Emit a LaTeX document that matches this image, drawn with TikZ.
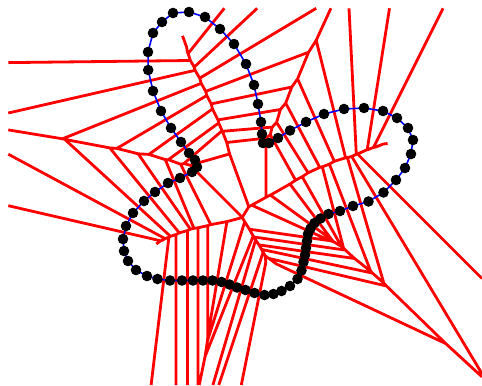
\documentclass[tikz,border=0pt]{standalone}
\usepackage{tikz}
\newcount\vorN
\newcount\vorI
\newcount\vorJ
\newcount\vorK
\newcount\vorLo
\newcount\vorHi
\newcount\vorA
\newcount\vorB
\newcount\vorAbsA
\newcount\vorAbsB
\newcount\vorDx
\newcount\vorDy
\newcount\vorMx
\newcount\vorMy
\newcount\vorQ
\newif\ifvorempty
\gdef\vorEdges{}
\def\vorXmin{83}
\def\vorXmax{4820}
\def\vorYmin{83}
\def\vorYmax{3850}
\def\vorX#1{\csname vorx\number#1\endcsname}
\def\vorY#1{\csname vory\number#1\endcsname}
\def\vorNN#1{\csname vorn\number#1\endcsname}
\newcommand\vorpt[2]{%
  \global\advance\vorN by 1\relax
  \expandafter\xdef\csname vorx\number\vorN\endcsname{\number\numexpr\dimexpr#1pt\relax*10/65536\relax}%
  \expandafter\xdef\csname vory\number\vorN\endcsname{\number\numexpr\dimexpr#2pt\relax*10/65536\relax}%
  \expandafter\xdef\csname vorn\number\vorN\endcsname{\number\numexpr
     \vorX\vorN*\vorX\vorN+\vorY\vorN*\vorY\vorN\relax}%
}
% constraint  a*t <= b  (t scaled by 10000)
\def\vorApply{%
  \ifnum\vorA=0\relax
    \ifnum\vorB<0\relax \voremptytrue\fi
  \else
    \vorAbsA=\vorA \ifnum\vorAbsA<0\relax \vorAbsA=-\vorAbsA\fi
    \vorAbsB=\vorB \ifnum\vorAbsB<0\relax \vorAbsB=-\vorAbsB\fi
    \vorAbsB=\numexpr\vorAbsB/100000\relax
    \ifnum\vorAbsB<\vorAbsA
      \vorQ=\numexpr\vorB*10000/\vorA\relax
      \ifnum\vorA>0\relax
        \ifnum\vorQ<\vorHi \vorHi=\vorQ\fi
      \else
        \ifnum\vorQ>\vorLo \vorLo=\vorQ\fi
      \fi
    \else
      \ifnum\vorB<0\relax \voremptytrue\fi
    \fi
    \ifnum\vorLo<\vorHi\else\voremptytrue\fi
  \fi}
\def\vorStepK{%
  \ifnum\vorK=\vorI\else\ifnum\vorK=\vorJ\else
    \vorA=\numexpr2*(\vorDx*(\vorX\vorK-\vorX\vorI)+\vorDy*(\vorY\vorK-\vorY\vorI))\relax
    \vorB=\numexpr\vorNN\vorK-\vorNN\vorI-\vorMx*(\vorX\vorK-\vorX\vorI)-\vorMy*(\vorY\vorK-\vorY\vorI)\relax
    \vorApply
    \ifvorempty \vorK=\vorN\fi
  \fi\fi}
\def\vorLoopK{%
  \ifnum\vorK<\vorN
    \advance\vorK by 1\relax
    \vorStepK
    \expandafter\vorLoopK
  \fi}
\def\vorEdge{%
  \vorDx=\numexpr\vorY\vorI-\vorY\vorJ\relax
  \vorDy=\numexpr\vorX\vorJ-\vorX\vorI\relax
  \vorMx=\numexpr\vorX\vorI+\vorX\vorJ\relax
  \vorMy=\numexpr\vorY\vorI+\vorY\vorJ\relax
  \vorLo=-2000000000\relax
  \vorHi=2000000000\relax
  \voremptyfalse
  \vorK=0\relax
  \vorLoopK
  \ifvorempty\else
    \ifnum\vorLo=-2000000000\relax \voremptytrue\fi
    \ifnum\vorHi=2000000000\relax \voremptytrue\fi
  \fi
  \ifvorempty\else
    \vorA=\numexpr-2*\vorDx\relax \vorB=\numexpr\vorMx-2*\vorXmin\relax \vorApply
    \vorA=\numexpr2*\vorDx\relax \vorB=\numexpr2*\vorXmax-\vorMx\relax \vorApply
    \vorA=\numexpr-2*\vorDy\relax \vorB=\numexpr\vorMy-2*\vorYmin\relax \vorApply
    \vorA=\numexpr2*\vorDy\relax \vorB=\numexpr2*\vorYmax-\vorMy\relax \vorApply
    \ifvorempty\else
      \xdef\vorEdges{\vorEdges
        (\number\numexpr(\vorMx*5000+\vorLo*\vorDx)/10000\relax,\number\numexpr(\vorMy*5000+\vorLo*\vorDy)/10000\relax)
        --(\number\numexpr(\vorMx*5000+\vorHi*\vorDx)/10000\relax,\number\numexpr(\vorMy*5000+\vorHi*\vorDy)/10000\relax)}%
    \fi
  \fi}
\def\vorLoopJ{%
  \ifnum\vorJ<\vorN
    \advance\vorJ by 1\relax
    \vorEdge
    \expandafter\vorLoopJ
  \fi}
\def\vorLoopI{%
  \ifnum\vorI<\vorN
    \advance\vorI by 1\relax
    \vorJ=\vorI
    \vorLoopJ
    \expandafter\vorLoopI
  \fi}
% sample points of the curve (pixels)
\vorpt{144}{201}
\vorpt{133}{213}
\vorpt{126}{226}
\vorpt{123}{239}
\vorpt{124}{251}
\vorpt{128}{261}
\vorpt{136}{270}
\vorpt{147}{276}
\vorpt{157.5}{279}
\vorpt{170}{280.5}
\vorpt{182}{280.5}
\vorpt{193}{280.5}
\vorpt{203}{280.5}
\vorpt{212.5}{280.5}
\vorpt{221.5}{282}
\vorpt{229.5}{284.5}
\vorpt{237}{287.5}
\vorpt{245.5}{290}
\vorpt{254.5}{293}
\vorpt{264.5}{295}
\vorpt{273.5}{294}
\vorpt{281.5}{291}
\vorpt{290}{286}
\vorpt{297.5}{279}
\vorpt{301.5}{270.5}
\vorpt{303.5}{262}
\vorpt{305}{255}
\vorpt{306}{248}
\vorpt{307}{241}
\vorpt{308}{234}
\vorpt{310.5}{228.5}
\vorpt{314.5}{223}
\vorpt{320.5}{218.5}
\vorpt{328.5}{214}
\vorpt{340}{211}
\vorpt{353}{206}
\vorpt{368.5}{201.5}
\vorpt{383.5}{192.5}
\vorpt{396}{180}
\vorpt{405}{168}
\vorpt{411}{154}
\vorpt{413}{140}
\vorpt{408}{128}
\vorpt{397}{118}
\vorpt{383}{111}
\vorpt{364}{108}
\vorpt{344}{109}
\vorpt{324}{114}
\vorpt{306}{122}
\vorpt{290}{130.5}
\vorpt{278}{138}
\vorpt{269}{143}
\vorpt{263}{143}
\vorpt{262}{134}
\vorpt{261}{122}
\vorpt{258}{104}
\vorpt{254}{85}
\vorpt{246}{64}
\vorpt{234}{44}
\vorpt{220}{29}
\vorpt{205}{17}
\vorpt{189}{12}
\vorpt{173}{13}
\vorpt{162}{22}
\vorpt{153}{33}
\vorpt{148}{52}
\vorpt{148.2}{70}
\vorpt{153}{91}
\vorpt{161}{111}
\vorpt{171}{128}
\vorpt{181}{142}
\vorpt{189}{153}
\vorpt{195}{160}
\vorpt{197}{167}
\vorpt{192}{172}
\vorpt{180}{178}
\vorpt{168}{183}
\vorpt{155}{192}
\tikzset{
  voredge/.style={draw=red, line width=2.8pt},
  curveline/.style={draw=blue, line width=1.6pt},
  sampledot/.style={fill=black}
}
\begin{document}
\vorI=0\relax
\vorLoopI
\begin{tikzpicture}[x=0.1pt, y=-0.1pt]
  \fill[white] (0,0) rectangle (4820,3850);
  \useasboundingbox (0,0) rectangle (4820,3850);
  \path[voredge] \vorEdges;
  \draw[curveline] (\vorX{1},\vorY{1}) \foreach \k in {2,...,78}{ -- (\vorX{\k},\vorY{\k}) } -- cycle;
  \foreach \k in {1,...,78}{
    \path[sampledot] (\vorX{\k},\vorY{\k}) circle[radius=5.3pt];
  }
\end{tikzpicture}
\end{document}
